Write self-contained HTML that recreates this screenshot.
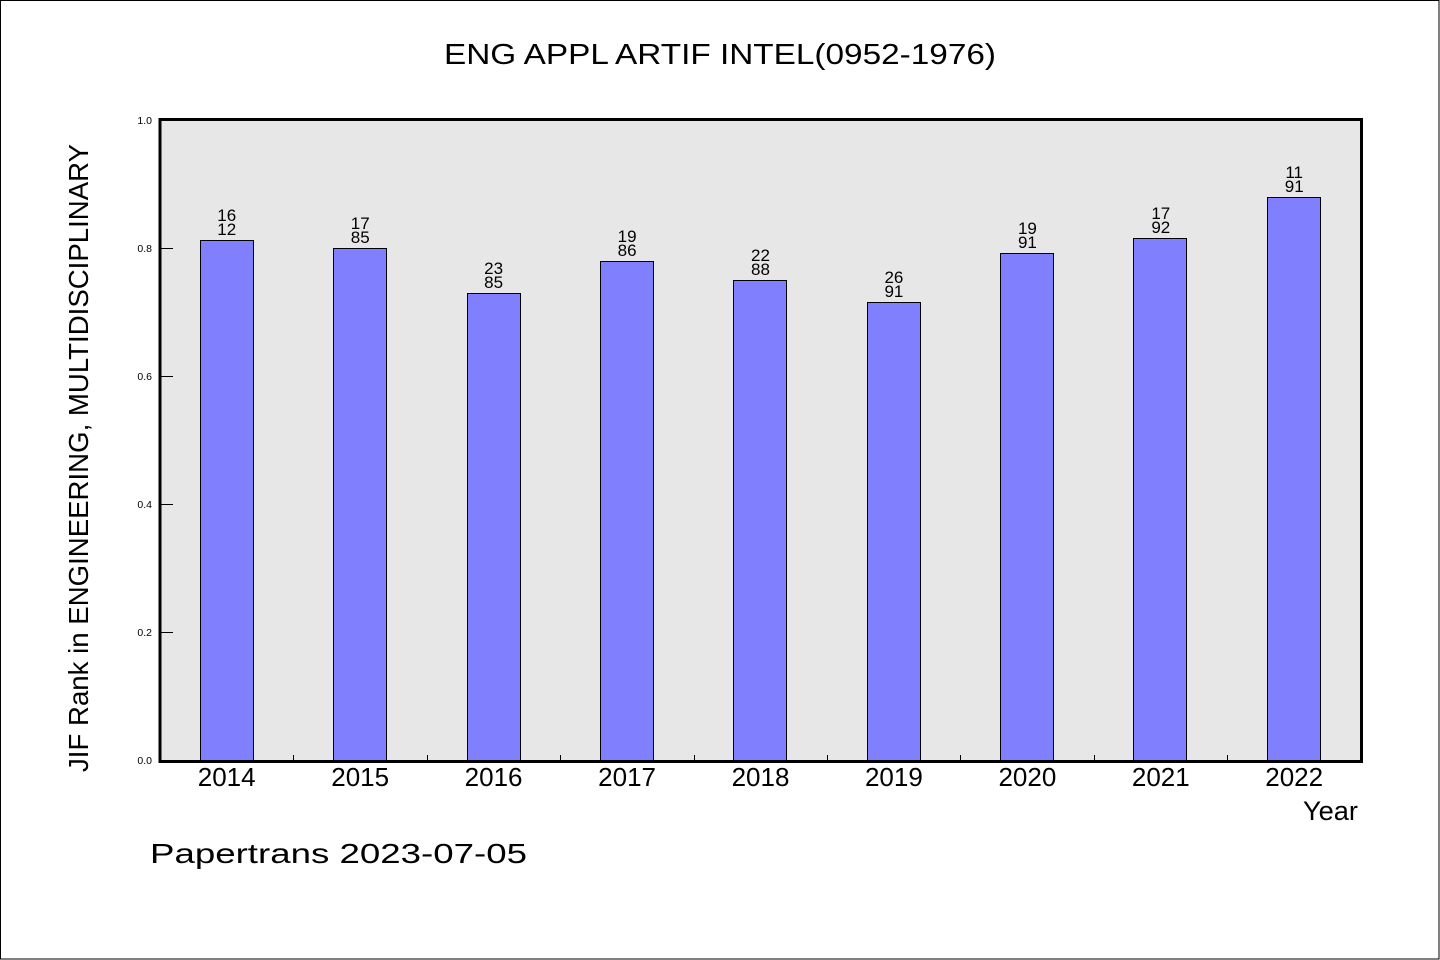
<!DOCTYPE html>
<html>
<head>
<meta charset="utf-8">
<style>
html,body{margin:0;padding:0;background:#fff;}
svg{display:block;}
text{font-family:"Liberation Sans","WenQuanYi Zen Hei",sans-serif;fill:#000;}
</style>
</head>
<body>
<svg width="1440" height="960" viewBox="0 0 1440 960" xmlns="http://www.w3.org/2000/svg">
  <rect x="0.5" y="0.5" width="1438.5" height="958.5" fill="#fff" stroke="#000" stroke-width="1"/>
  <!-- plot background -->
  <rect x="160" y="119.5" width="1201.5" height="642" fill="#e7e7e7"/>

  <!-- bars -->
  <g fill="#8080ff" stroke="#000" stroke-width="1">
    <rect x="200.5" y="240.5" width="53" height="520.5"/>
    <rect x="333.5" y="248.5" width="53" height="512.5"/>
    <rect x="467.5" y="293.5" width="53" height="467.5"/>
    <rect x="600.5" y="261.5" width="53" height="499.5"/>
    <rect x="733.5" y="280.5" width="53" height="480.5"/>
    <rect x="867.5" y="302.5" width="53" height="458.5"/>
    <rect x="1000.5" y="253.5" width="53" height="507.5"/>
    <rect x="1133.5" y="238.5" width="53" height="522.5"/>
    <rect x="1267.5" y="197.5" width="53" height="563.5"/>
  </g>

  <!-- bar labels -->
  <g font-size="17" text-anchor="middle">
    <text x="226.7" y="221">16</text><text x="226.7" y="235">12</text>
    <text x="360.2" y="229">17</text><text x="360.2" y="243">85</text>
    <text x="493.6" y="274">23</text><text x="493.6" y="288">85</text>
    <text x="627.1" y="242">19</text><text x="627.1" y="256">86</text>
    <text x="760.5" y="261">22</text><text x="760.5" y="275">88</text>
    <text x="893.9" y="283">26</text><text x="893.9" y="297">91</text>
    <text x="1027.4" y="234">19</text><text x="1027.4" y="248">91</text>
    <text x="1160.8" y="219">17</text><text x="1160.8" y="233">92</text>
    <text x="1294.2" y="178">11</text><text x="1294.2" y="192">91</text>
  </g>

  <!-- y ticks -->
  <g stroke="#000" stroke-width="1">
    <line x1="161" y1="632.5" x2="173" y2="632.5"/>
    <line x1="161" y1="504.5" x2="173" y2="504.5"/>
    <line x1="161" y1="376.5" x2="173" y2="376.5"/>
    <line x1="161" y1="248.5" x2="173" y2="248.5"/>
  </g>
  <!-- x ticks -->
  <g stroke="#000" stroke-width="1">
    <line x1="293.5" y1="755" x2="293.5" y2="761"/>
    <line x1="427.5" y1="755" x2="427.5" y2="761"/>
    <line x1="560.5" y1="755" x2="560.5" y2="761"/>
    <line x1="694.5" y1="755" x2="694.5" y2="761"/>
    <line x1="827.5" y1="755" x2="827.5" y2="761"/>
    <line x1="960.5" y1="755" x2="960.5" y2="761"/>
    <line x1="1094.5" y1="755" x2="1094.5" y2="761"/>
    <line x1="1227.5" y1="755" x2="1227.5" y2="761"/>
  </g>

  <!-- frame -->
  <rect x="160" y="119.5" width="1201.5" height="642" fill="none" stroke="#000" stroke-width="3"/>

  <!-- y tick labels -->
  <g font-size="10.5" text-anchor="end">
    <text x="152" y="124">1.0</text>
    <text x="152" y="252">0.8</text>
    <text x="152" y="380">0.6</text>
    <text x="152" y="508">0.4</text>
    <text x="152" y="636">0.2</text>
    <text x="152" y="764">0.0</text>
  </g>

  <!-- x tick labels -->
  <g font-size="26" text-anchor="middle">
    <text x="226.7" y="786">2014</text>
    <text x="360.2" y="786">2015</text>
    <text x="493.6" y="786">2016</text>
    <text x="627.1" y="786">2017</text>
    <text x="760.5" y="786">2018</text>
    <text x="893.9" y="786">2019</text>
    <text x="1027.4" y="786">2020</text>
    <text x="1160.8" y="786">2021</text>
    <text x="1294.2" y="786">2022</text>
  </g>

  <text x="1303" y="820" font-size="27" textLength="55" lengthAdjust="spacingAndGlyphs">Year</text>

  <!-- title -->
  <text x="444" y="64" font-size="29" textLength="552" lengthAdjust="spacingAndGlyphs">ENG APPL ARTIF INTEL(0952-1976)</text>

  <!-- y axis label -->
  <text transform="translate(88,458) rotate(-90)" x="0" y="0" font-size="28" text-anchor="middle" textLength="628" lengthAdjust="spacingAndGlyphs">JIF Rank in ENGINEERING, MULTIDISCIPLINARY</text>

  <!-- footer -->
  <text x="150" y="863" font-size="28" textLength="377" lengthAdjust="spacingAndGlyphs">Papertrans 2023-07-05</text>
</svg>
</body>
</html>
